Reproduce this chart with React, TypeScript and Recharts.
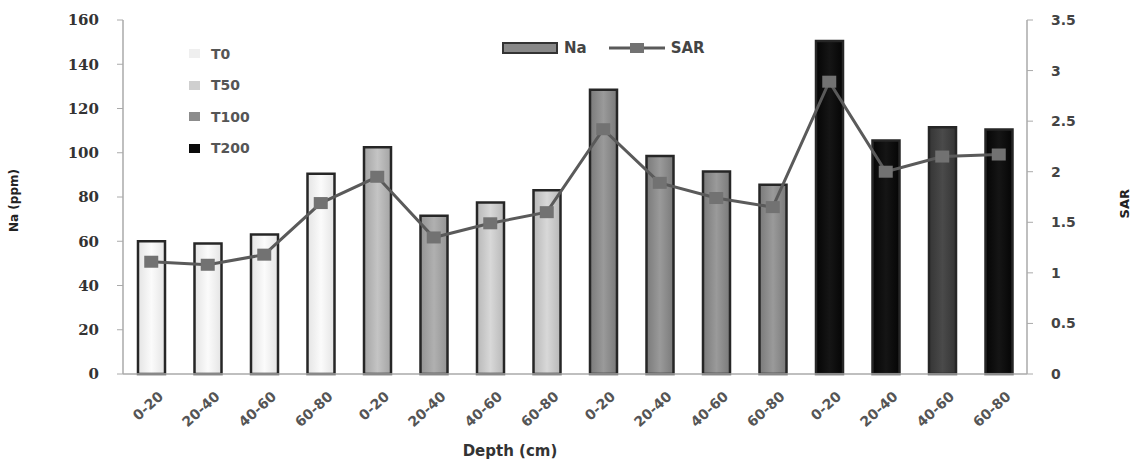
import React from 'react'
import { ComposedChart, Bar, Line, XAxis, YAxis, Cell } from 'recharts'

const depths = ['0-20', '20-40', '40-60', '60-80', '0-20', '20-40', '40-60', '60-80', '0-20', '20-40', '40-60', '60-80', '0-20', '20-40', '40-60', '60-80']
const naValues = [60, 59, 63, 90.5, 102.5, 71.5, 77.5, 83, 128.5, 98.5, 91.5, 85.5, 150.5, 105.5, 111.5, 110.5]
const sarValues = [1.11, 1.08, 1.18, 1.69, 1.95, 1.35, 1.49, 1.6, 2.42, 1.89, 1.74, 1.65, 2.89, 2.0, 2.15, 2.17]
const naTicks = [0, 20, 40, 60, 80, 100, 120, 140, 160]
const sarTicks = [0, 0.5, 1, 1.5, 2, 2.5, 3, 3.5]
const treatments = ['T0', 'T50', 'T100', 'T200']

// bar shades, one per bar (grayscale print of the original)
const barShades = ['t0', 't0', 't0', 't0', 't50a', 't50b', 't50', 't50', 't100', 't100', 't100', 't100', 't200', 't200', 't200b', 't200']
const shadeColors: Record<string, [string, string]> = {
  t0: ['#e4e4e4', '#fbfbfb'],
  t50: ['#b8b8b8', '#d8d8d8'],
  t50a: ['#a4a4a4', '#c4c4c4'],
  t50b: ['#949494', '#b0b0b0'],
  t100: ['#7a7a7a', '#9a9a9a'],
  t200: ['#050505', '#151515'],
  t200b: ['#353535', '#4a4a4a'],
}
const legendSwatch = ['#efefef', '#cfcfcf', '#8c8c8c', '#0a0a0a']

const data = depths.map((d, i) => ({ id: i, depth: d, na: naValues[i], sar: sarValues[i] }))

const tickFont = { fontFamily: 'DejaVu Sans', fontWeight: 700 }

function SarDot(props: any) {
  const { cx, cy } = props
  if (cx == null || cy == null) return null
  return <rect x={cx - 7} y={cy - 6} width={14} height={12} fill="#727272" />
}

function XTick(props: any) {
  const { x, y, payload } = props
  return (
    <text x={x + 6} y={y + 8} transform={`rotate(-42, ${x + 6}, ${y + 8})`} textAnchor="end" dominantBaseline="hanging"
      fontSize={14} fill="#555" style={tickFont}>
      {depths[payload.value]}
    </text>
  )
}

export default function App() {
  return (
    <div style={{ position: 'absolute', left: 0, top: 0, width: 1138, height: 465, background: '#fff' }}>
      <ComposedChart width={1138} height={465} data={data} margin={{ top: 20, right: 0, bottom: 0, left: 0 }}>
        <defs>
          {Object.entries(shadeColors).map(([k, [edge, mid]]) => (
            <linearGradient key={k} id={`g-${k}`} x1="0" y1="0" x2="1" y2="0">
              <stop offset="0%" stopColor={edge} />
              <stop offset="50%" stopColor={mid} />
              <stop offset="100%" stopColor={edge} />
            </linearGradient>
          ))}
        </defs>
        <XAxis dataKey="id" type="category" height={91} interval={0} tick={<XTick />}
          axisLine={{ stroke: '#aaa', strokeWidth: 1.5 }} tickLine={false} />
        <YAxis yAxisId="na" width={123} domain={[0, 160]} ticks={naTicks} interval={0}
          axisLine={{ stroke: '#aaa', strokeWidth: 1.5 }} tickLine={{ stroke: '#aaa' }} tickSize={6} tickMargin={18}
          tick={{ fontSize: 15, fill: '#333', fontFamily: 'DejaVu Serif', fontWeight: 700 }}
          label={{ value: 'Na (ppm)', angle: -90, position: 'insideLeft', offset: 14, dy: 35, fontSize: 12, fill: '#222', style: tickFont }} />
        <YAxis yAxisId="sar" orientation="right" width={111} domain={[0, 3.5]} ticks={sarTicks} interval={0}
          axisLine={{ stroke: '#aaa', strokeWidth: 1.5 }} tickLine={{ stroke: '#aaa' }} tickSize={6} tickMargin={18}
          tick={{ fontSize: 14, fill: '#444', ...tickFont }}
          label={{ value: 'SAR', angle: -90, position: 'insideRight', offset: 14, dy: -8, fontSize: 13, fill: '#222', style: tickFont }} />
        <Bar yAxisId="na" dataKey="na" barSize={27} stroke="#262626" strokeWidth={2.5} isAnimationActive={false}>
          {data.map((d, i) => <Cell key={d.id} fill={`url(#g-${barShades[i]})`} />)}
        </Bar>
        <Line yAxisId="sar" dataKey="sar" type="linear" stroke="#5a5a5a" strokeWidth={3} dot={<SarDot />} activeDot={false} isAnimationActive={false} />
      </ComposedChart>

      {/* treatment legend */}
      <div style={{ position: 'absolute', left: 189, top: 38 }}>
        {treatments.map((t, i) => (
          <div key={t} style={{ display: 'flex', alignItems: 'center', height: 31.5 }}>
            <span style={{ width: 11, height: 9, background: legendSwatch[i], marginRight: 11 }} />
            <span style={{ fontFamily: 'DejaVu Sans', fontWeight: 700, fontSize: 14, color: '#555' }}>{t}</span>
          </div>
        ))}
      </div>

      {/* series legend */}
      <div style={{ position: 'absolute', left: 502, top: 39, display: 'flex', alignItems: 'center', fontFamily: 'DejaVu Sans', fontWeight: 700, fontSize: 15, color: '#444' }}>
        <span style={{ width: 52, height: 8, background: '#888', border: '2px solid #333', marginRight: 6 }} />
        <span style={{ marginRight: 22 }}>Na</span>
        <svg width={56} height={14} style={{ marginRight: 6 }}>
          <line x1={0} y1={7} x2={56} y2={7} stroke="#5a5a5a" strokeWidth={3} />
          <rect x={21} y={2} width={14} height={10} fill="#727272" />
        </svg>
        <span>SAR</span>
      </div>

      <div style={{ position: 'absolute', left: 0, width: 1020, top: 442, textAlign: 'center', fontFamily: 'DejaVu Sans', fontWeight: 700, fontSize: 15, color: '#333' }}>
        Depth (cm)
      </div>
    </div>
  )
}
